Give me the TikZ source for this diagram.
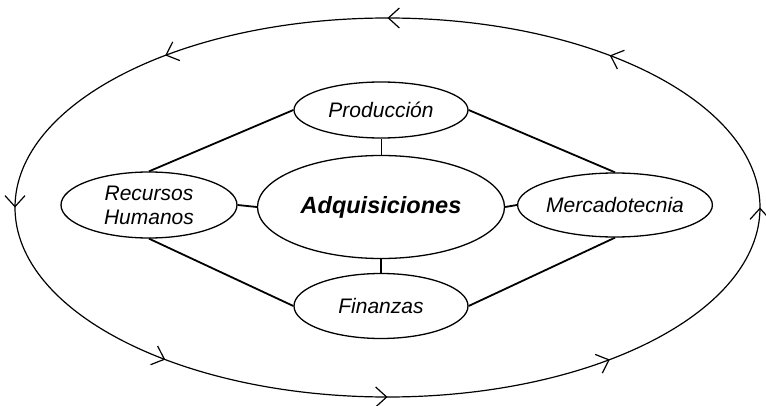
\documentclass[tikz,border=0pt]{standalone}
\usepackage{fontspec}
\setmainfont{Liberation Sans}
\usepackage{tikz}
\usetikzlibrary{arrows.meta,decorations.markings,shapes.geometric}

\tikzset{
	area/.style={draw,ellipse,line width=1.3pt,inner sep=0pt,align=center,
		font=\fontsize{21}{24}\selectfont\itshape},
	enlace/.style={line width=1.8pt}
}

\begin{document}
\begin{tikzpicture}[x=1pt,y=1pt]
		\useasboundingbox (0,0) rectangle (766,405);
		
		% cycle around the areas
		\draw[line width=1.2pt,
		postaction={decorate},
		decoration={markings, mark=between positions 0 and 0.9 step 0.125 with {\arrow{Straight Barb[length=11pt,width=20pt,line width=1.2pt]}}}]
		(387.5,197.5) ellipse [x radius=372.5, y radius=189.5];
		
		% areas
		\node[area,minimum width=247pt,minimum height=103pt,
			font=\fontsize{23.5}{26}\selectfont\bfseries\itshape] (adq) at (381,198) {Adquisiciones};
		\node[area,minimum width=174pt,minimum height=56pt] (prod) at (381,295) {Producción};
		\node[area,minimum width=174pt,minimum height=65pt] (fin) at (381,99) {Finanzas};
		\node[area,minimum width=176pt,minimum height=66pt] (rh) at (149,200) {Recursos\\Humanos};
		\node[area,minimum width=175pt,minimum height=64pt] (merc) at (615,200) {Mercadotecnia};
		
		% links
		\draw[line width=0.9pt] (prod.south) -- (adq.north);
		\draw[enlace] (fin.north) -- (adq.south);
		\draw[enlace] (rh.east) -- (adq.west);
		\draw[enlace] (adq.east) -- (merc.west);
		\draw[enlace] (prod.west) -- (rh.north);
		\draw[enlace] (prod.east) -- (merc.north);
		\draw[enlace] (rh.south) -- (fin.west);
		\draw[enlace] (merc.south) -- (fin.east);
	\end{tikzpicture}
\end{document}
